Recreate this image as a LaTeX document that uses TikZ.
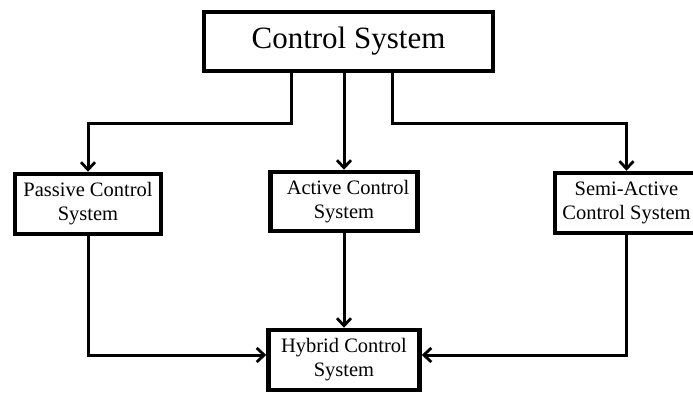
\documentclass[tikz,border=0pt]{standalone}
\usepackage{fontspec}
\setmainfont{Liberation Serif}
\usetikzlibrary{arrows.meta}
\begin{document}
\begin{tikzpicture}[x=1pt,y=-1pt,
  box/.style={draw, line width=4.5pt, rectangle, inner sep=0pt, align=center,
    font=\fontsize{20.5}{24}\selectfont},
  arr/.style={line width=3pt, -{Straight Barb[length=7.5pt,width=14pt,line width=2.8pt]}}]
\useasboundingbox (0,0) rectangle (693,392);
\clip (0,0) rectangle (693,392);
\node[box, minimum width=289pt, minimum height=59pt, font=\fontsize{31}{36}\selectfont] (top) at (348.5,41.5) {Control System};
\node[box, minimum width=146pt, minimum height=60pt] (pas) at (88,204) {Passive Control\\System};
\node[box, minimum width=147pt, minimum height=59pt] (act) at (344,201.5) {\hspace*{8pt}Active Control\\System};
\node[box, minimum width=143pt, minimum height=60pt] (semi) at (626.5,203) {Semi-Active\\Control System};
\node[box, minimum width=151pt, minimum height=60pt] (hyb) at (344,360) {Hybrid Control\\System};
\coordinate (bl) at (291,123);
\coordinate (br) at (392,123);
\draw[arr] (top.south -| bl) -- (bl) -| (pas.north);
\draw[arr] (top.south -| act.north) -- (act.north);
\draw[arr] (top.south -| br) -- (br) -| (semi.north);
\draw[arr] (act.south) -- (hyb.north);
\draw[arr] (pas.south) |- ([yshift=5pt]hyb.west);
\draw[arr] (semi.south) |- ([yshift=5pt]hyb.east);
\end{tikzpicture}
\end{document}
